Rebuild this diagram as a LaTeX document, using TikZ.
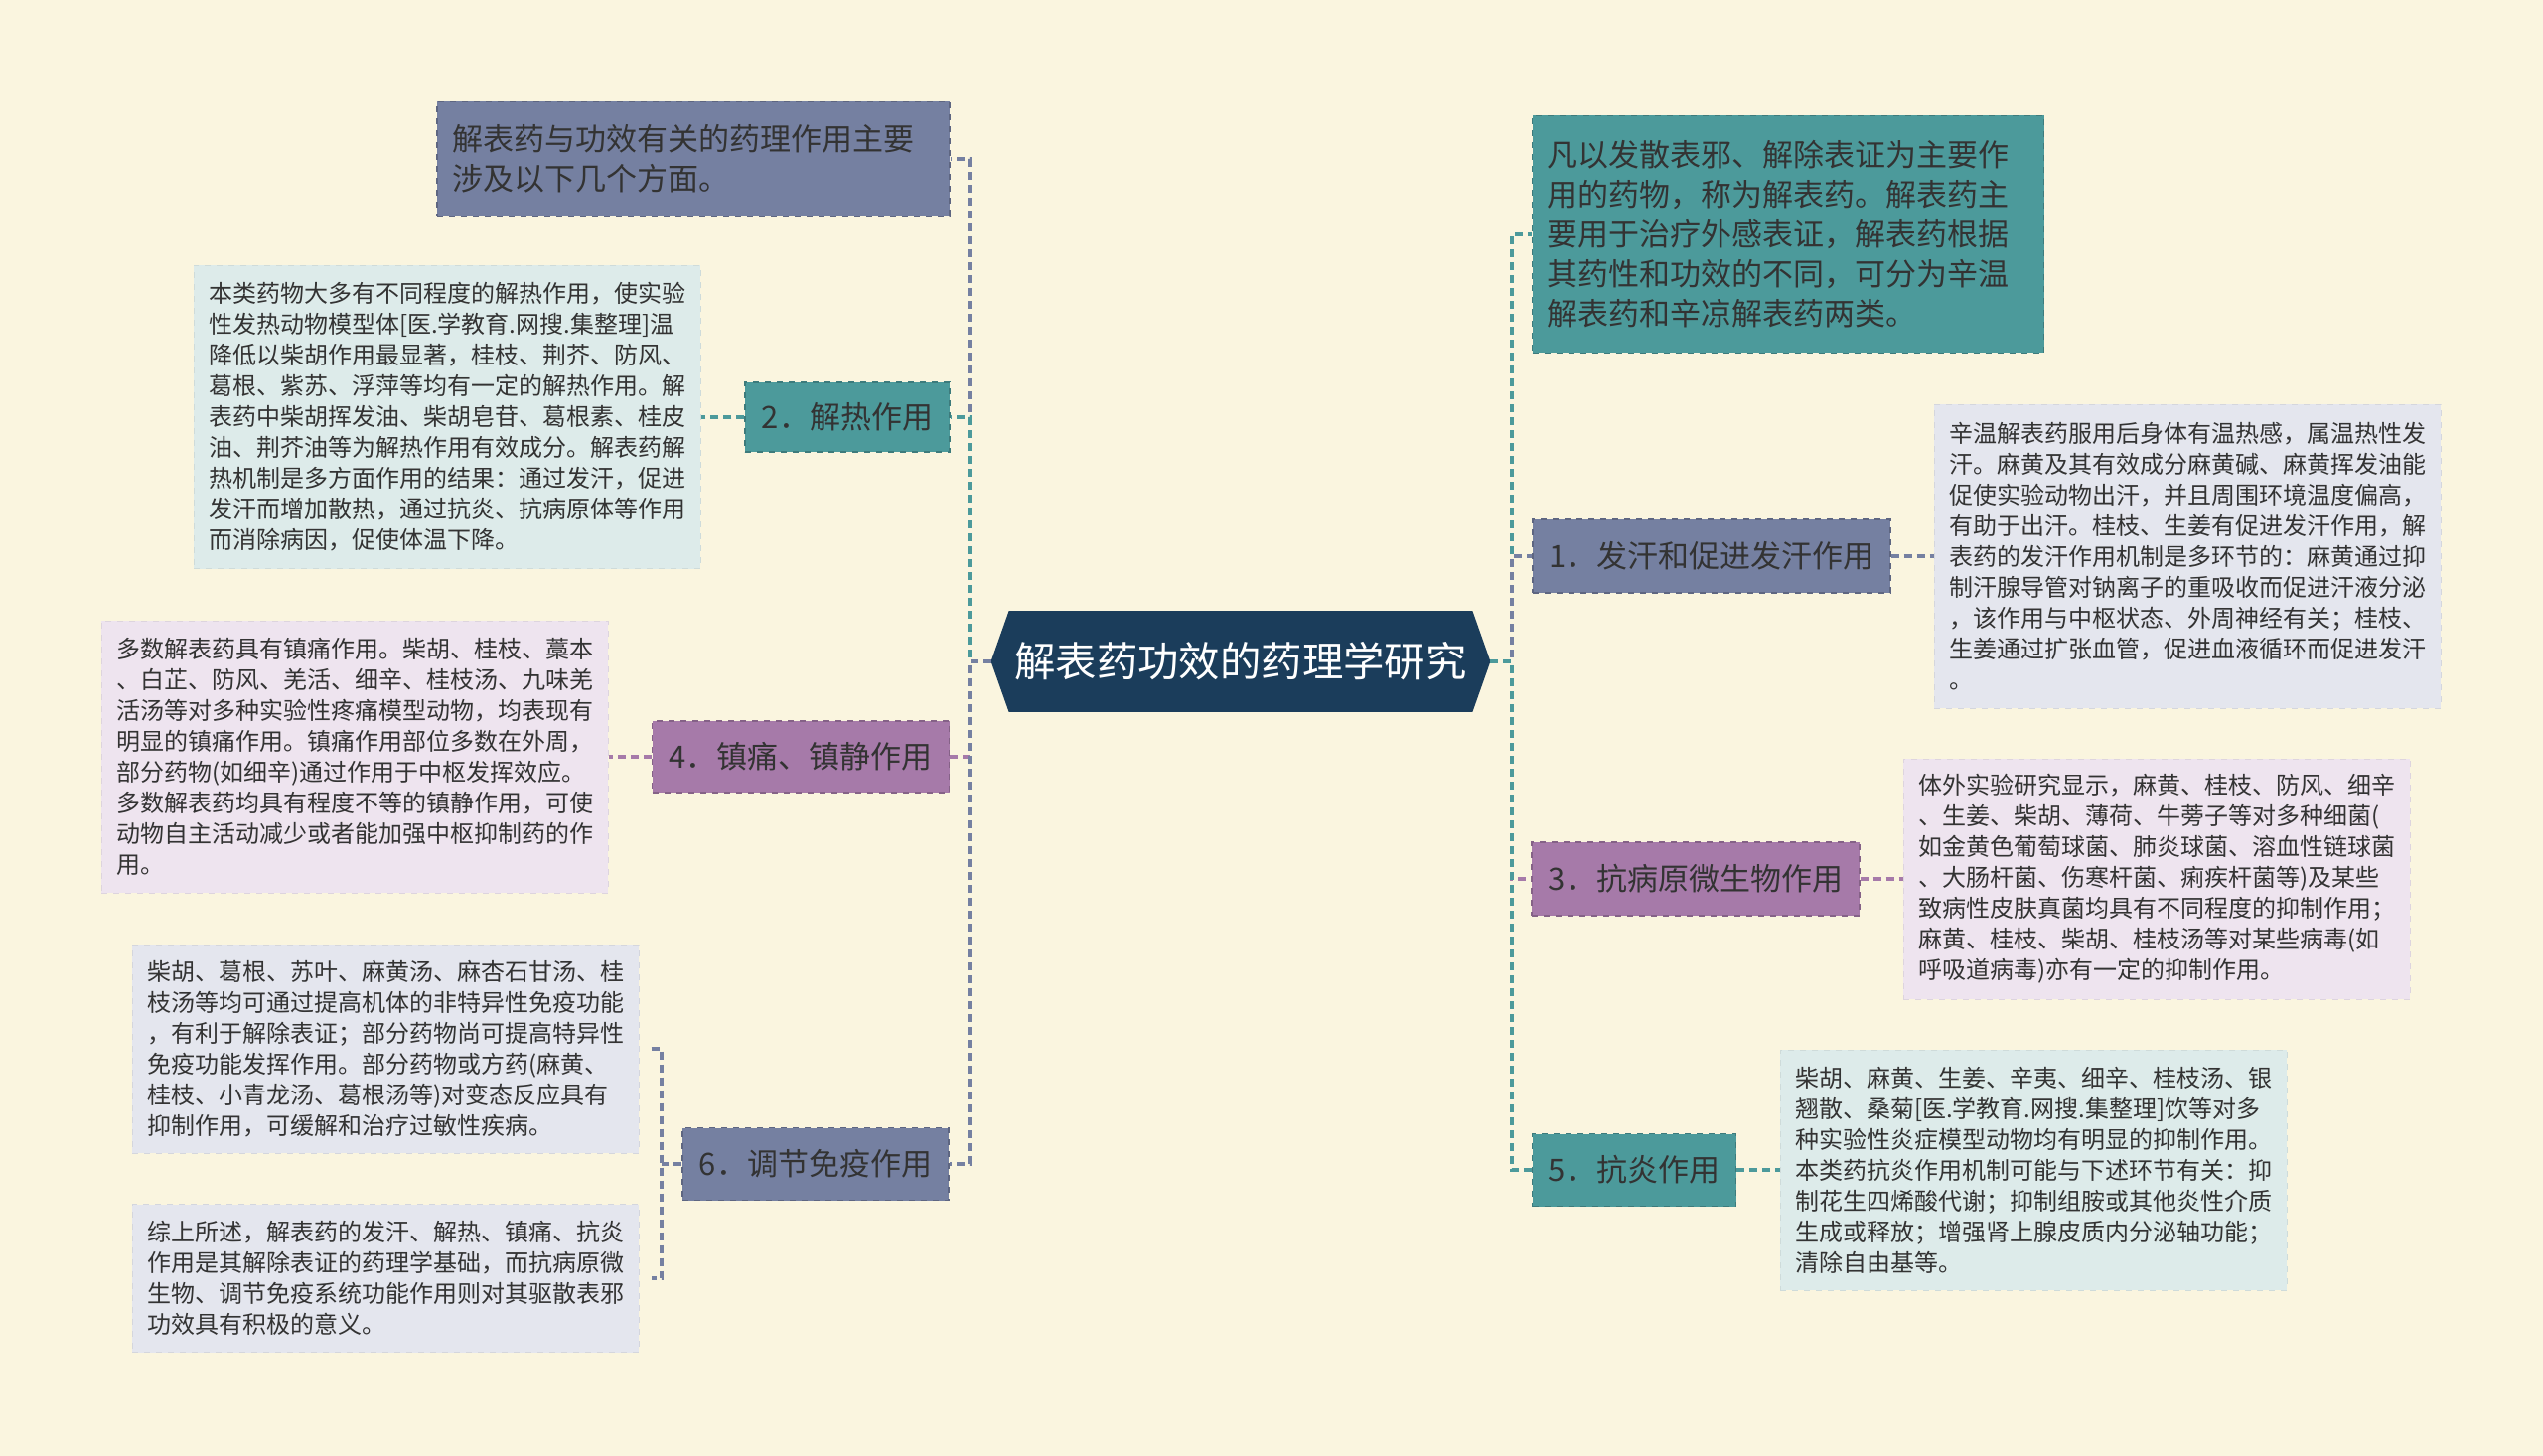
\documentclass[tikz,border=0pt]{standalone}
\usepackage{fontspec}
\setmainfont{Noto Sans CJK SC}
\usepackage{tikz}
\usetikzlibrary{backgrounds}

\definecolor{bgcol}{HTML}{FAF5DF}
\definecolor{rootcol}{HTML}{1B3D5B}
\definecolor{slatecol}{HTML}{7580A1}
\definecolor{tealcol}{HTML}{4C9A9B}
\definecolor{purplecol}{HTML}{A67AA9}
\definecolor{lslate}{HTML}{E4E6EE}
\definecolor{lteal}{HTML}{DDEBEA}
\definecolor{lpurple}{HTML}{EEE4EF}
\definecolor{txtcol}{HTML}{333333}

\begin{document}
\begin{tikzpicture}[x=0.5pt, y=-0.5pt,
	link/.style={#1, dash pattern=on 4pt off 2.5pt, line width=1.6pt},
	rootnode/.style={text=white, font=\fontsize{20.7pt}{24pt}\selectfont, minimum width=251pt, minimum height=50.5pt, inner sep=0pt},
	mainbox/.style={fill=#1, draw=#1!80!black, dashed, line width=0.6pt, text=txtcol, font=\fontsize{15.5pt}{20pt}\selectfont, inner sep=0pt},
	leafbox/.style={fill=#1, draw=#1!93!black, dashed, line width=0.5pt, text=txtcol, font=\fontsize{12pt}{15.5pt}\selectfont, text width=240pt, align=left, inner xsep=7.5pt, inner ysep=0pt, minimum width=255pt}]
	\useasboundingbox (0,0) rectangle (2560,1466);

	\node[rootnode] (root) at (1249,666) {解表药功效的药理学研究};

	\node[mainbox=slatecol, text width=243pt, inner xsep=7.5pt, align=left, minimum height=57.5pt] (topL) at (698,160) {解表药与功效有关的药理作用主要\\涉及以下几个方面。};
	\node[mainbox=tealcol, minimum width=103pt, minimum height=35pt] (L2) at (853,420) {2．解热作用};
	\node[mainbox=purplecol, minimum width=149.5pt, minimum height=36pt] (L4) at (806,762) {4．镇痛、镇静作用};
	\node[mainbox=slatecol, minimum width=134pt, minimum height=36.5pt] (L6) at (821,1172) {6．调节免疫作用};

	\node[leafbox=lteal, minimum height=152.5pt] (D2) at (450,420) {本类药物大多有不同程度的解热作用，使实验\\性发热动物模型体[医.学教育.网搜.集整理]温\\降低以柴胡作用最显著，桂枝、荆芥、防风、\\葛根、紫苏、浮萍等均有一定的解热作用。解\\表药中柴胡挥发油、柴胡皂苷、葛根素、桂皮\\油、荆芥油等为解热作用有效成分。解表药解\\热机制是多方面作用的结果：通过发汗，促进\\发汗而增加散热，通过抗炎、抗病原体等作用\\而消除病因，促使体温下降。};
	\node[leafbox=lpurple, minimum height=137pt] (D4) at (357,762) {多数解表药具有镇痛作用。柴胡、桂枝、藁本\\、白芷、防风、羌活、细辛、桂枝汤、九味羌\\活汤等对多种实验性疼痛模型动物，均表现有\\明显的镇痛作用。镇痛作用部位多数在外周，\\部分药物(如细辛)通过作用于中枢发挥效应。\\多数解表药均具有程度不等的镇静作用，可使\\动物自主活动减少或者能加强中枢抑制药的作\\用。};
	\node[leafbox=lslate, minimum height=105pt] (D6a) at (388,1056) {柴胡、葛根、苏叶、麻黄汤、麻杏石甘汤、桂\\枝汤等均可通过提高机体的非特异性免疫功能\\，有利于解除表证；部分药物尚可提高特异性\\免疫功能发挥作用。部分药物或方药(麻黄、\\桂枝、小青龙汤、葛根汤等)对变态反应具有\\抑制作用，可缓解和治疗过敏性疾病。};
	\node[leafbox=lslate, minimum height=74.5pt] (D6b) at (388,1287) {综上所述，解表药的发汗、解热、镇痛、抗炎\\作用是其解除表证的药理学基础，而抗病原微\\生物、调节免疫系统功能作用则对其驱散表邪\\功效具有积极的意义。};

	\node[mainbox=tealcol, text width=242.5pt, inner xsep=7.5pt, align=left, minimum height=119.5pt] (topR) at (1800,236) {凡以发散表邪、解除表证为主要作\\用的药物，称为解表药。解表药主\\要用于治疗外感表证，解表药根据\\其药性和功效的不同，可分为辛温\\解表药和辛凉解表药两类。};
	\node[mainbox=slatecol, minimum width=180pt, minimum height=37pt] (R1) at (1723,560) {1．发汗和促进发汗作用};
	\node[mainbox=purplecol, minimum width=165pt, minimum height=37pt] (R3) at (1707,885) {3．抗病原微生物作用};
	\node[mainbox=tealcol, minimum width=102.5pt, minimum height=36.5pt] (R5) at (1645,1178) {5．抗炎作用};

	\node[leafbox=lslate, minimum height=153pt] (D1) at (2202,560) {辛温解表药服用后身体有温热感，属温热性发\\汗。麻黄及其有效成分麻黄碱、麻黄挥发油能\\促使实验动物出汗，并且周围环境温度偏高，\\有助于出汗。桂枝、生姜有促进发汗作用，解\\表药的发汗作用机制是多环节的：麻黄通过抑\\制汗腺导管对钠离子的重吸收而促进汗液分泌\\，该作用与中枢状态、外周神经有关；桂枝、\\生姜通过扩张血管，促进血液循环而促进发汗\\。};
	\node[leafbox=lpurple, minimum height=121pt] (D3) at (2171,885) {体外实验研究显示，麻黄、桂枝、防风、细辛\\、生姜、柴胡、薄荷、牛蒡子等对多种细菌(\\如金黄色葡萄球菌、肺炎球菌、溶血性链球菌\\、大肠杆菌、伤寒杆菌、痢疾杆菌等)及某些\\致病性皮肤真菌均具有不同程度的抑制作用；\\麻黄、桂枝、柴胡、桂枝汤等对某些病毒(如\\呼吸道病毒)亦有一定的抑制作用。};
	\node[leafbox=lteal, minimum height=121pt] (D5) at (2047,1178) {柴胡、麻黄、生姜、辛夷、细辛、桂枝汤、银\\翘散、桑菊[医.学教育.网搜.集整理]饮等对多\\种实验性炎症模型动物均有明显的抑制作用。\\本类药抗炎作用机制可能与下述环节有关：抑\\制花生四烯酸代谢；抑制组胺或其他炎性介质\\生成或释放；增强肾上腺皮质内分泌轴功能；\\清除自由基等。};

	\coordinate (tl) at (976,666);
	\coordinate (tr) at (1522,666);
	\coordinate (b6) at (666,1172);

	\foreach \n/\c in {topL/slatecol, L2/tealcol, L4/purplecol, L6/slatecol}
		\draw[link=\c] (root.west) -- (tl) |- (\n.east);
	\foreach \n/\c in {topR/tealcol, R1/slatecol, R3/purplecol, R5/tealcol}
		\draw[link=\c] (root.east) -- (tr) |- (\n.west);

	\foreach \a/\b/\c in {L2/D2/tealcol, L4/D4/purplecol}
		\draw[link=\c] (\a.west) -- (\b.east);
	\foreach \a/\b/\c in {R1/D1/slatecol, R3/D3/purplecol, R5/D5/tealcol}
		\draw[link=\c] (\a.east) -- (\b.west);

	\draw[link=slatecol] (L6.west) -- (b6);
	\draw[link=slatecol] ([xshift=6pt]D6a.east) -- (D6a.east -| b6) -- (D6b.east -| b6) -- ([xshift=6pt]D6b.east);

	\begin{scope}[on background layer]
		\fill[bgcol] (0,0) rectangle (2560,1466);
		\fill[rootcol] ([xshift=9pt]root.north west) -- ([xshift=-9pt]root.north east) -- (root.east)
			-- ([xshift=-9pt]root.south east) -- ([xshift=9pt]root.south west) -- (root.west) -- cycle;
	\end{scope}
\end{tikzpicture}
\end{document}
